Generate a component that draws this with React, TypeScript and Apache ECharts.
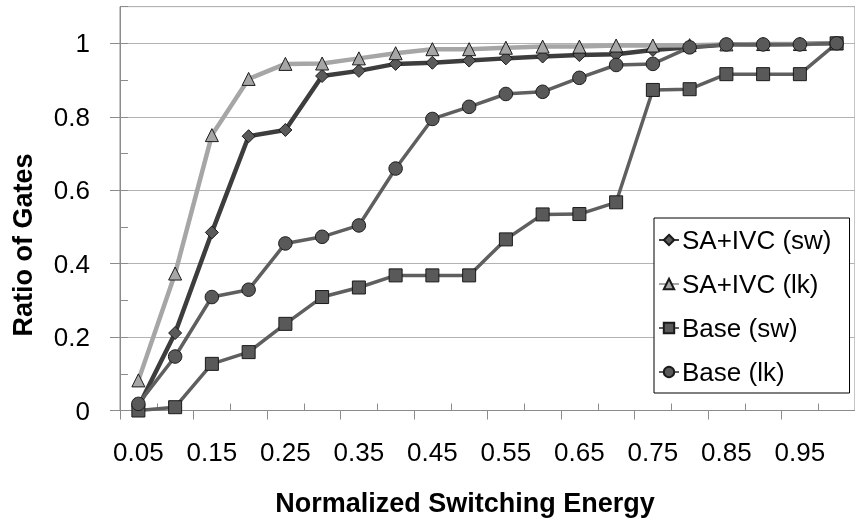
import React, { useEffect, useRef } from "react";
import * as echarts from "echarts";

const categories = ["0.05","0.1","0.15","0.2","0.25","0.3","0.35","0.4","0.45","0.5","0.55","0.6","0.65","0.7","0.75","0.8","0.85","0.9","0.95","1"];

const saIvcSw = [0.01,0.211,0.485,0.747,0.764,0.911,0.925,0.944,0.947,0.953,0.959,0.964,0.968,0.97,0.982,0.989,0.997,0.997,0.998,1.0];
const saIvcLk = [0.082,0.373,0.75,0.903,0.944,0.945,0.959,0.973,0.984,0.984,0.988,0.991,0.991,0.994,0.994,0.995,0.997,0.998,0.998,1.0];
const baseSw = [0,0.009,0.127,0.159,0.236,0.309,0.335,0.368,0.368,0.368,0.466,0.534,0.535,0.567,0.873,0.875,0.916,0.916,0.916,1.0];
const baseLk = [0.018,0.147,0.309,0.329,0.455,0.473,0.504,0.659,0.794,0.827,0.862,0.868,0.906,0.941,0.944,0.989,0.997,0.997,0.997,1.0];

const xTitle = "Normalized Switching Energy";
const yTitle = "Ratio of Gates";

const FONT = "Liberation Sans";

export default function App() {
  const ref = useRef<HTMLDivElement>(null);
  useEffect(() => {
    if (!ref.current) return;
    const chart = echarts.init(ref.current, null, { renderer: "svg" });
    const mk = (name: string, data: number[], symbol: string, size: number, lineColor: string, fill: string, width: number) => ({
      name,
      type: "line",
      data,
      symbol,
      symbolSize: size,
      xAxisIndex: 0,
      yAxisIndex: 0,
      lineStyle: { color: lineColor, width },
      itemStyle: { color: fill, borderColor: "#1a1a1a", borderWidth: 1 },
      emphasis: { disabled: true },
    });
    chart.setOption({
      animation: false,
      grid: { left: 120, right: -11, top: 6.6, bottom: 110.5, show: true, borderColor: "#8c8c8c", borderWidth: 1 },
      xAxis: [
        {
          type: "category",
          data: categories,
          boundaryGap: true,
          axisLine: { lineStyle: { color: "#8c8c8c", width: 1 } },
          axisTick: { show: true, interval: 1, length: 9, lineStyle: { color: "#8c8c8c" } },
          axisLabel: { interval: 1, margin: 28, color: "#000", fontFamily: FONT, fontSize: 26 },
          splitLine: { show: false },
        },
        {
          type: "category",
          data: categories,
          boundaryGap: true,
          position: "bottom",
          axisLine: { show: false },
          axisTick: { show: true, inside: true, length: 7, interval: (i: number) => i % 2 === 1, lineStyle: { color: "#8c8c8c" } },
          axisLabel: { show: false },
          splitLine: { show: false },
        },
      ],
      yAxis: [
        {
          type: "value",
          min: 0,
          max: 1.1,
          interval: 0.2,
          axisLine: { show: true, lineStyle: { color: "#8c8c8c", width: 1 } },
          axisTick: { show: true, length: 10, lineStyle: { color: "#8c8c8c" } },
          axisLabel: { margin: 30, color: "#000", fontFamily: FONT, fontSize: 26, showMaxLabel: false },
          splitLine: { show: true, lineStyle: { color: "#b3b3b3", width: 1 } },
        },
        {
          type: "value",
          min: 0,
          max: 1.1,
          interval: 0.1,
          position: "left",
          axisLine: { show: false },
          axisTick: { show: true, inside: true, length: 8, lineStyle: { color: "#8c8c8c" } },
          axisLabel: { show: false },
          splitLine: { show: false },
        },
      ],
      legend: {
        orient: "vertical",
        left: 654,
        top: 218,
        padding: [7, 18, 6, 4],
        itemWidth: 20,
        itemHeight: 13,
        itemGap: 14,
        backgroundColor: "#fff",
        borderColor: "#000",
        borderWidth: 1,
        borderRadius: 0,
        textStyle: { color: "#000", fontFamily: FONT, fontSize: 26, lineHeight: 30, padding: [0, 0, 0, -2] },
        data: ["SA+IVC (sw)", "SA+IVC (lk)", "Base (sw)", "Base (lk)"],
      },
      series: [
        mk("SA+IVC (sw)", saIvcSw, "diamond", 13, "#3d3d3d", "#5a5a5a", 4.5),
        mk("SA+IVC (lk)", saIvcLk, "triangle", 13, "#a6a6a6", "#a6a6a6", 4.5),
        mk("Base (sw)", baseSw, "rect", 13, "#5f5f5f", "#595959", 3.5),
        mk("Base (lk)", baseLk, "circle", 13.5, "#5f5f5f", "#595959", 3.5),
      ],
      graphic: [
        {
          type: "text",
          x: 465,
          y: 503,
          style: { text: xTitle, fill: "#000", fontFamily: FONT, fontWeight: "bold", fontSize: 27, align: "center", verticalAlign: "middle" },
        },
        {
          type: "text",
          x: 23,
          y: 245,
          rotation: Math.PI / 2,
          style: { text: yTitle, fill: "#000", fontFamily: FONT, fontWeight: "bold", fontSize: 27, align: "center", verticalAlign: "middle" },
        },
      ],
    });
    return () => chart.dispose();
  }, []);
  return <div ref={ref} style={{ position: "fixed", left: 0, top: 0, width: 855, height: 521 }} />;
}
